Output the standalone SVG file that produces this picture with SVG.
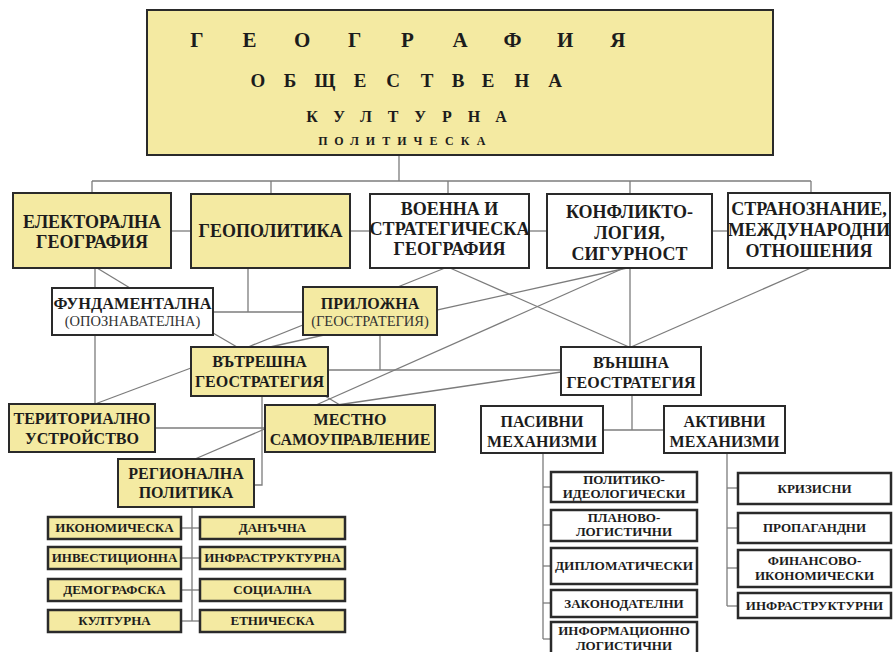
<svg xmlns="http://www.w3.org/2000/svg" width="894" height="652" viewBox="0 0 894 652">
<style>
.bx{stroke:#2a2a2a;stroke-width:2}
.sb{stroke:#2a2a2a;stroke-width:2.5}
.y{fill:#f4eaa2}
.w{fill:#ffffff}
#connectors line,#connectors polyline{stroke:#7c7c7c;stroke-width:1.3;fill:none}
text{font-family:"Liberation Serif","DejaVu Serif",serif;font-weight:bold;fill:#1c1c1c;text-anchor:middle}
.f18{font-size:18px}
.f16{font-size:16px}
.r14{font-size:14.5px;font-weight:normal;fill:#333}
.f12{font-size:13px}
</style>
<rect width="894" height="652" fill="#ffffff"/>
<g id="connectors">
<line x1="399" y1="155" x2="399" y2="181"/>
<line x1="92" y1="181" x2="811" y2="181"/>
<line x1="92" y1="181" x2="92" y2="193"/>
<line x1="271" y1="181" x2="271" y2="194"/>
<line x1="448" y1="181" x2="448" y2="194"/>
<line x1="630" y1="181" x2="630" y2="194"/>
<line x1="811" y1="181" x2="811" y2="193"/>
<line x1="171" y1="231" x2="191" y2="231"/>
<line x1="350" y1="231" x2="370" y2="231"/>
<line x1="529" y1="231" x2="547" y2="231"/>
<line x1="712" y1="231" x2="728" y2="231"/>
<line x1="95" y1="268" x2="95" y2="404"/>
<line x1="97" y1="268" x2="130" y2="288"/>
<polyline points="248,268 248,312"/>
<line x1="213" y1="312" x2="303" y2="312"/>
<line x1="213" y1="333" x2="237" y2="347"/>
<line x1="445" y1="268" x2="248" y2="347"/>
<line x1="450" y1="268" x2="629" y2="347"/>
<line x1="627" y1="268" x2="270" y2="347"/>
<line x1="624" y1="268" x2="316" y2="405"/>
<line x1="630" y1="268" x2="630" y2="347"/>
<line x1="811" y1="268" x2="631" y2="347"/>
<line x1="380" y1="335" x2="380" y2="370"/>
<line x1="328" y1="370" x2="561" y2="370"/>
<line x1="561" y1="372" x2="337" y2="405"/>
<line x1="325" y1="396" x2="340" y2="405"/>
<line x1="191" y1="368" x2="95" y2="404"/>
<line x1="155" y1="428" x2="265" y2="428"/>
<line x1="267" y1="428" x2="195" y2="459"/>
<polyline points="262,396 262,485 254,485"/>
<line x1="632" y1="395" x2="632" y2="430"/>
<line x1="603" y1="430" x2="664" y2="430"/>
<line x1="192" y1="507" x2="192" y2="621"/>
<line x1="181" y1="528" x2="200" y2="528"/>
<line x1="181" y1="558" x2="200" y2="558"/>
<line x1="181" y1="590" x2="200" y2="590"/>
<line x1="181" y1="621" x2="200" y2="621"/>
<line x1="543" y1="453" x2="543" y2="639"/>
<line x1="543" y1="487" x2="551" y2="487"/>
<line x1="543" y1="525" x2="551" y2="525"/>
<line x1="543" y1="566" x2="551" y2="566"/>
<line x1="543" y1="603" x2="551" y2="603"/>
<line x1="543" y1="639" x2="551" y2="639"/>
<line x1="727" y1="453" x2="727" y2="606"/>
<line x1="727" y1="488" x2="738" y2="488"/>
<line x1="727" y1="528" x2="738" y2="528"/>
<line x1="727" y1="568" x2="738" y2="568"/>
<line x1="727" y1="606" x2="738" y2="606"/>
</g>
<g id="title">
<rect class="bx y" x="147" y="10" width="626" height="145" stroke-width="2.5"/>
<text style="font-size:21px" x="197 249.6 302.2 354.8 407.4 460 512.6 565.2 617.8" y="47">ГЕОГРАФИЯ</text>
<text style="font-size:19px" x="258 290 325 360 393 427 458 488 522 555" y="87">ОБЩЕСТВЕНА</text>
<text style="font-size:16px" x="312 339 366 393 420 447 474 501" y="122">КУЛТУРНА</text>
<text style="font-size:12px" x="323 338.8 354.6 370.4 386.2 402 417.8 433.6 449.4 465.2 481" y="145">ПОЛИТИЧЕСКА</text>
</g>
<g id="elektoralna">
<rect class="bx y" x="13" y="193" width="158" height="75"/>
<text class="f18" x="92" y="228">ЕЛЕКТОРАЛНА</text>
<text class="f18" x="92" y="248">ГЕОГРАФИЯ</text>
</g>
<g id="geopolitika">
<rect class="bx y" x="191" y="194" width="159" height="74"/>
<text class="f18" x="270.5" y="237">ГЕОПОЛИТИКА</text>
</g>
<g id="voenna">
<rect class="bx w" x="370" y="194" width="159" height="74"/>
<text class="f18" x="449.5" y="215">ВОЕННА И</text>
<text class="f18" x="449.5" y="235" textLength="160" lengthAdjust="spacingAndGlyphs">СТРАТЕГИЧЕСКА</text>
<text class="f18" x="449.5" y="255">ГЕОГРАФИЯ</text>
</g>
<g id="konfliktologia">
<rect class="bx w" x="547" y="194" width="165" height="74"/>
<text class="f18" x="629.5" y="218">КОНФЛИКТО-</text>
<text class="f18" x="629.5" y="239">ЛОГИЯ,</text>
<text class="f18" x="629.5" y="260">СИГУРНОСТ</text>
</g>
<g id="stranoznanie">
<rect class="bx w" x="728" y="193" width="162" height="75"/>
<text class="f18" x="809" y="215">СТРАНОЗНАНИЕ,</text>
<text class="f18" x="809" y="236" textLength="162" lengthAdjust="spacingAndGlyphs">МЕЖДУНАРОДНИ</text>
<text class="f18" x="809" y="257">ОТНОШЕНИЯ</text>
</g>
<g id="fundamentalna">
<rect class="bx w" x="52" y="288" width="161" height="47"/>
<text class="f16" x="132.5" y="309" textLength="158" lengthAdjust="spacingAndGlyphs">ФУНДАМЕНТАЛНА</text>
<text class="r14" x="132.5" y="326">(ОПОЗНАВАТЕЛНА)</text>
</g>
<g id="prilozhna">
<rect class="bx y" x="303" y="287" width="134" height="48"/>
<text class="f16" x="370" y="309">ПРИЛОЖНА</text>
<text class="r14" x="370" y="326">(ГЕОСТРАТЕГИЯ)</text>
</g>
<g id="vatreshna">
<rect class="bx y" x="191" y="347" width="137" height="49"/>
<text class="f16" x="259.5" y="367">ВЪТРЕШНА</text>
<text class="f16" x="259.5" y="387">ГЕОСТРАТЕГИЯ</text>
</g>
<g id="vanshna">
<rect class="bx w" x="561" y="347" width="140" height="48"/>
<text class="f16" x="631" y="368">ВЪНШНА</text>
<text class="f16" x="631" y="388">ГЕОСТРАТЕГИЯ</text>
</g>
<g id="teritorialno">
<rect class="bx y" x="9" y="404" width="146" height="48"/>
<text class="f16" x="82" y="424">ТЕРИТОРИАЛНО</text>
<text class="f16" x="82" y="444">УСТРОЙСТВО</text>
</g>
<g id="mestno">
<rect class="bx y" x="265" y="405" width="170" height="47"/>
<text class="f16" x="350" y="425">МЕСТНО</text>
<text class="f16" x="350" y="445">САМОУПРАВЛЕНИЕ</text>
</g>
<g id="regionalna">
<rect class="bx y" x="118" y="459" width="136" height="48"/>
<text class="f16" x="186" y="479">РЕГИОНАЛНА</text>
<text class="f16" x="186" y="498">ПОЛИТИКА</text>
</g>
<g id="pasivni">
<rect class="bx w" x="481" y="406" width="122" height="47"/>
<text class="f16" x="542" y="427">ПАСИВНИ</text>
<text class="f16" x="542" y="447">МЕХАНИЗМИ</text>
</g>
<g id="aktivni">
<rect class="bx w" x="664" y="406" width="121" height="47"/>
<text class="f16" x="724.5" y="427">АКТИВНИ</text>
<text class="f16" x="724.5" y="447">МЕХАНИЗМИ</text>
</g>
<g id="ikonomicheska">
<rect class="sb y" x="48" y="517" width="133" height="22"/>
<text class="f12" x="114.5" y="532">ИКОНОМИЧЕСКА</text>
</g>
<g id="danachna">
<rect class="sb y" x="200" y="517" width="145" height="22"/>
<text class="f12" x="272.5" y="532">ДАНЪЧНА</text>
</g>
<g id="investicionna">
<rect class="sb y" x="48" y="547" width="133" height="22"/>
<text class="f12" x="114.5" y="562">ИНВЕСТИЦИОННА</text>
</g>
<g id="infrastrukturna">
<rect class="sb y" x="200" y="547" width="145" height="22"/>
<text class="f12" x="272.5" y="562">ИНФРАСТРУКТУРНА</text>
</g>
<g id="demografska">
<rect class="sb y" x="48" y="579" width="133" height="22"/>
<text class="f12" x="114.5" y="594">ДЕМОГРАФСКА</text>
</g>
<g id="socialna">
<rect class="sb y" x="200" y="579" width="145" height="22"/>
<text class="f12" x="272.5" y="594">СОЦИАЛНА</text>
</g>
<g id="kulturna">
<rect class="sb y" x="48" y="610" width="133" height="22"/>
<text class="f12" x="114.5" y="625">КУЛТУРНА</text>
</g>
<g id="etnicheska">
<rect class="sb y" x="200" y="610" width="145" height="22"/>
<text class="f12" x="272.5" y="625">ЕТНИЧЕСКА</text>
</g>
<g id="politiko">
<rect class="sb w" x="551" y="472" width="146" height="30"/>
<text class="f12" x="624" y="484">ПОЛИТИКО-</text>
<text class="f12" x="624" y="498">ИДЕОЛОГИЧЕСКИ</text>
</g>
<g id="planovo">
<rect class="sb w" x="551" y="510" width="146" height="31"/>
<text class="f12" x="624" y="522">ПЛАНОВО-</text>
<text class="f12" x="624" y="536">ЛОГИСТИЧНИ</text>
</g>
<g id="diplomaticheski">
<rect class="sb w" x="551" y="548" width="146" height="36"/>
<text class="f12" x="624" y="570" textLength="138" lengthAdjust="spacingAndGlyphs">ДИПЛОМАТИЧЕСКИ</text>
</g>
<g id="zakonodatelni">
<rect class="sb w" x="551" y="590" width="146" height="27"/>
<text class="f12" x="624" y="608">ЗАКОНОДАТЕЛНИ</text>
</g>
<g id="informacionno">
<rect class="sb w" x="551" y="622" width="146" height="34"/>
<text class="f12" x="624" y="635">ИНФОРМАЦИОННО</text>
<text class="f12" x="624" y="650">ЛОГИСТИЧНИ</text>
</g>
<g id="krizisni">
<rect class="sb w" x="738" y="473" width="153" height="31"/>
<text class="f12" x="814.5" y="493">КРИЗИСНИ</text>
</g>
<g id="propagandni">
<rect class="sb w" x="738" y="513" width="153" height="30"/>
<text class="f12" x="814.5" y="532">ПРОПАГАНДНИ</text>
</g>
<g id="finansovo">
<rect class="sb w" x="738" y="550" width="153" height="37"/>
<text class="f12" x="814.5" y="565">ФИНАНСОВО-</text>
<text class="f12" x="814.5" y="580">ИКОНОМИЧЕСКИ</text>
</g>
<g id="infrastrukturni">
<rect class="sb w" x="738" y="593" width="153" height="25"/>
<text class="f12" x="814.5" y="610">ИНФРАСТРУКТУРНИ</text>
</g>
</svg>
